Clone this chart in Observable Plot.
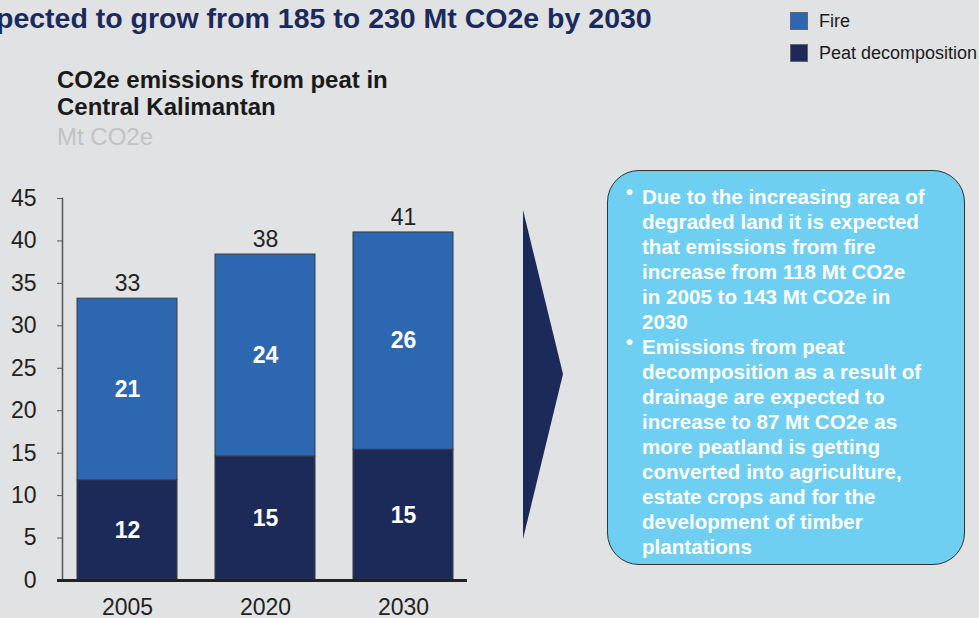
<!DOCTYPE html>
<html><head><meta charset="utf-8">
<script src="https://cdn.jsdelivr.net/npm/d3@7"></script>
<script src="https://cdn.jsdelivr.net/npm/@observablehq/plot@0.6"></script>
<style>
html,body{margin:0;padding:0;background:#e1e2e4;width:979px;height:618px;overflow:hidden;font-family:"Liberation Sans",Arial,sans-serif;}
#page{position:relative;width:979px;height:618px;}
#chart{position:absolute;left:0;top:0;}
.abs{position:absolute;white-space:nowrap;}
#title{left:-4px;top:4px;font-size:28.5px;line-height:29px;font-weight:bold;color:#1b2a5a;}
#sub{left:57px;top:66px;font-size:24px;line-height:27px;font-weight:bold;color:#1a1a1a;}
#unit{left:57px;top:123px;font-size:24px;line-height:27px;color:#c2c3c5;}
.sw{position:absolute;width:18px;height:18px;box-sizing:border-box;border:1px solid #666;}
.lg{position:absolute;font-size:18px;line-height:18px;color:#1a1a1a;white-space:nowrap;}
#arrow{position:absolute;left:0;top:0;}
#box{position:absolute;left:607px;top:170px;width:358px;height:395px;box-sizing:border-box;border:1.5px solid #333;border-radius:32px;background:#6ecff2;padding:13px 0 0 34px;color:#fff;font-weight:bold;font-size:20.6px;line-height:25px;white-space:nowrap;}
.li{position:relative;}
.b{position:absolute;left:-16px;top:-4px;font-size:20px;}
</style></head><body><div id="page">
<div id="chart"></div>
<svg id="arrow" width="979" height="618"><polygon points="523,210 563,374 523,539" fill="#1b2a58"/></svg>
<div id="title" class="abs">pected to grow from 185 to 230 Mt CO2e by 2030</div>
<div id="sub" class="abs">CO2e emissions from peat in<br>Central Kalimantan</div>
<div id="unit" class="abs">Mt CO2e</div>
<div id="legend"></div>
<div id="box">
<div class="li"><span class="b">•</span>Due to the increasing area of<br>degraded land it is expected<br>that emissions from fire<br>increase from 118 Mt CO2e<br>in 2005 to 143 Mt CO2e in<br>2030</div>
<div class="li"><span class="b">•</span>Emissions from peat<br>decomposition as a result of<br>drainage are expected to<br>increase to 87 Mt CO2e as<br>more peatland is getting<br>converted into agriculture,<br>estate crops and for the<br>development of timber<br>plantations</div>
</div>
</div>
<script>
const years = ["2005", "2020", "2030"];
const peat = [11.8, 14.6, 15.4];
const fire = [21.4, 23.8, 25.6];
const yTicks = [0, 5, 10, 15, 20, 25, 30, 35, 40, 45];
const series = ["Peat decomposition", "Fire"];
const colors = ["#1b2a58", "#2d67b1"];
const legendOrder = ["Fire", "Peat decomposition"];

const rows = years.flatMap((y, i) => [
  {year: y, type: "Peat decomposition", value: peat[i]},
  {year: y, type: "Fire", value: fire[i]}
]);
const totals = years.map((y, i) => ({year: y, total: peat[i] + fire[i]}));

const plot = Plot.plot({
  width: 979, height: 618,
  marginTop: 198, marginBottom: 38, marginLeft: 62, marginRight: 512,
  style: {background: "transparent", fontFamily: "'Liberation Sans', Arial, sans-serif", color: "#222", overflow: "visible"},
  x: {domain: years, paddingInner: 0.278, paddingOuter: 0.101, label: null},
  y: {domain: [0, 45], label: null},
  color: {domain: series, range: colors},
  marks: [
    Plot.barY(rows, {x: "year", y: "value", fill: "type", stroke: "#3a3a3a", strokeWidth: 1}),
    Plot.text(rows, Plot.stackY({x: "year", y: "value", z: "type", text: d => Math.round(d.value), fill: "white", fontWeight: "bold", fontSize: 23})),
    Plot.text(totals, {x: "year", y: "total", text: d => Math.round(d.total), dy: -15, fontSize: 23, fill: "#222"}),
    Plot.axisY({ticks: yTicks, tickSize: 5, tickPadding: 21, fontSize: 23, stroke: "#555", fill: "#222", label: null}),
    Plot.axisX({tickSize: 0, tickPadding: 18, fontSize: 23, fill: "#222", label: null}),
    Plot.frame({anchor: "left", stroke: "#555", strokeWidth: 1.5}),
    Plot.ruleY([0], {stroke: "#222", strokeWidth: 3, insetLeft: -5})
  ]
});
document.getElementById("chart").appendChild(plot);

const lg = document.getElementById("legend");
legendOrder.forEach((name, i) => {
  const sw = document.createElement("div");
  sw.className = "sw";
  sw.style.left = "790px";
  sw.style.top = (12 + i * 32) + "px";
  sw.style.background = colors[series.indexOf(name)];
  lg.appendChild(sw);
  const t = document.createElement("div");
  t.className = "lg";
  t.style.left = "819px";
  t.style.top = (12 + i * 32) + "px";
  t.textContent = name;
  lg.appendChild(t);
});
</script>
</body></html>
